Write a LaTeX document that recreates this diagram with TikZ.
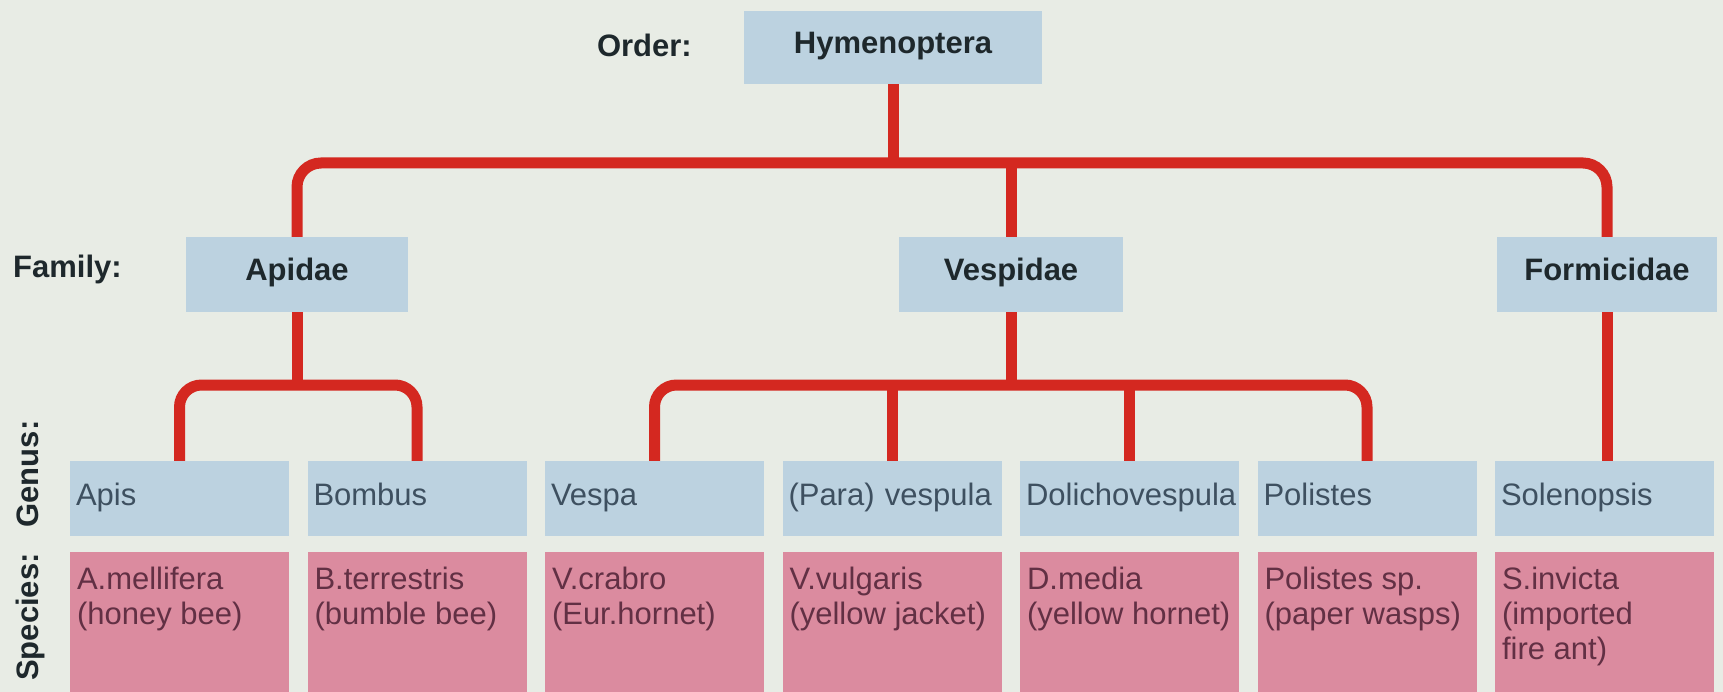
\documentclass[tikz,border=0pt]{standalone}
\usepackage{fontspec}
\setmainfont{Liberation Sans}

\definecolor{paper}{RGB}{232,236,229}
\definecolor{boxblue}{RGB}{188,210,224}
\definecolor{boxpink}{RGB}{219,139,159}
\definecolor{linkred}{RGB}{212,40,32}
\definecolor{inkdark}{RGB}{30,40,44}
\definecolor{inkblue}{RGB}{62,80,96}
\definecolor{inkplum}{RGB}{98,48,68}

\tikzset{
  bigtext/.style={font=\fontsize{31}{35}\selectfont},
  ranklabel/.style={font=\fontsize{31}{35}\selectfont\bfseries, text=inkdark,
    inner sep=0pt, text height=21pt, text depth=8pt},
  rankbox/.style={ranklabel, fill=boxblue, minimum height=75pt},
  genusbox/.style={bigtext, fill=boxblue, text=inkblue, minimum width=219pt,
    minimum height=75pt, text width=207pt, align=left, inner xsep=6pt, inner ysep=0pt,
    text height=20pt, text depth=6pt},
  speciesbox/.style={fill=boxpink, minimum width=219pt, minimum height=140pt, inner sep=0pt},
  speciestext/.style={bigtext, text=inkplum, align=left, inner sep=0pt, anchor=north west},
  link/.style={draw=linkred, line width=11pt},
}

\begin{document}
\begin{tikzpicture}[x=1pt, y=-1pt]
  % page and background
  \useasboundingbox (0,0) rectangle (1723,692);
  \fill[paper] (0,0) rectangle (1723,692);

  % rank labels
  \node[ranklabel, anchor=east] (orderlbl) at (692,50) {Order:};
  \node[ranklabel, anchor=west] (familylbl) at (13,271) {Family:};
  \node[ranklabel, rotate=90] (genuslbl) at (32,474) {Genus:};
  \node[ranklabel, rotate=90] (specieslbl) at (32,617) {Species:};

  % order and families
  \node[rankbox, minimum width=298pt, minimum height=73pt] (order) at (893,47.5) {Hymenoptera};
  \node[rankbox, minimum width=222pt] (apidae) at (297,274.5) {Apidae};
  \node[rankbox, minimum width=224pt] (vespidae) at (1011,274.5) {Vespidae};
  \node[rankbox, minimum width=220pt] (formicidae) at (1607,274.5) {Formicidae};

  % genera
  \node[genusbox] (g1) at (179.5,498.5) {Apis};
  \node[genusbox] (g2) at (417,498.5) {Bombus};
  \node[genusbox] (g3) at (654.5,498.5) {Vespa};
  \node[genusbox] (g4) at (892,498.5) {(Para) vespula};
  \node[genusbox] (g5) at (1129.5,498.5) {Dolichovespula};
  \node[genusbox] (g6) at (1367,498.5) {Polistes};
  \node[genusbox] (g7) at (1604.5,498.5) {Solenopsis};

  % species
  \foreach \i/\cx in {1/179.5,2/417,3/654.5,4/892,5/1129.5,6/1367,7/1604.5}
    \node[speciesbox] (s\i) at (\cx,622) {};
  \node[speciestext] (s1t) at ([xshift=7pt,yshift=-15pt]s1.north west) {A.mellifera\\(honey bee)};
  \node[speciestext] (s2t) at ([xshift=7pt,yshift=-15pt]s2.north west) {B.terrestris\\(bumble bee)};
  \node[speciestext] (s3t) at ([xshift=7pt,yshift=-15pt]s3.north west) {V.crabro\\(Eur.hornet)};
  \node[speciestext] (s4t) at ([xshift=7pt,yshift=-15pt]s4.north west) {V.vulgaris\\(yellow jacket)};
  \node[speciestext] (s5t) at ([xshift=7pt,yshift=-15pt]s5.north west) {D.media\\(yellow hornet)};
  \node[speciestext] (s6t) at ([xshift=7pt,yshift=-15pt]s6.north west) {Polistes sp.\\(paper wasps)};
  \node[speciestext] (s7t) at ([xshift=7pt,yshift=-15pt]s7.north west) {S.invicta\\(imported\\fire ant)};

  % bracket levels
  \coordinate (topbar) at (0,163);
  \coordinate (apibar) at (0,385);
  \coordinate (vesbar) at (0,385);

  % order to families
  \draw[link] (order.south) -- (order.south |- topbar);
  \draw[link, rounded corners=24pt] (apidae.north) -- (apidae.north |- topbar)
    -- (formicidae.north |- topbar) -- (formicidae.north);
  \draw[link] (vespidae.north |- topbar) -- (vespidae.north);

  % Apidae to genera
  \draw[link] (apidae.south) -- (apidae.south |- apibar);
  \draw[link, rounded corners=22pt] (g1.north) -- (g1.north |- apibar)
    -- (g2.north |- apibar) -- (g2.north);

  % Vespidae to genera
  \draw[link] (vespidae.south) -- (vespidae.south |- vesbar);
  \draw[link, rounded corners=22pt] (g3.north) -- (g3.north |- vesbar)
    -- (g6.north |- vesbar) -- (g6.north);
  \draw[link] (g4.north |- vesbar) -- (g4.north);
  \draw[link] (g5.north |- vesbar) -- (g5.north);

  % Formicidae to genus
  \draw[link] (formicidae.south) -- (formicidae.south |- g7.north);
\end{tikzpicture}
\end{document}
